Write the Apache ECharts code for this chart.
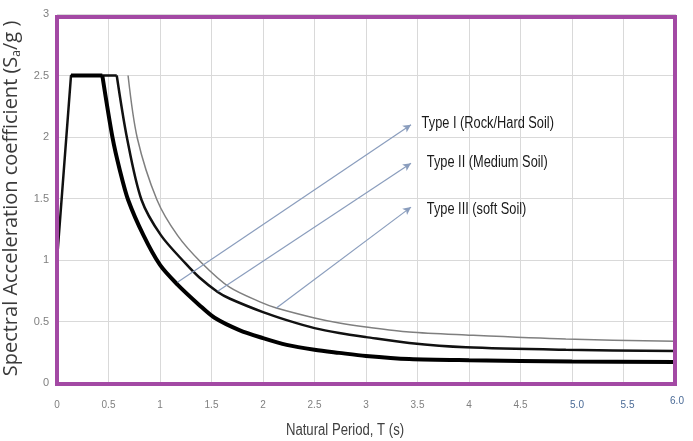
<!DOCTYPE html>
<html><head><meta charset="utf-8">
<script src="https://cdn.jsdelivr.net/npm/echarts@6/dist/echarts.min.js"></script>
<style>html,body{margin:0;padding:0;background:#fff}#c{width:693px;height:441px}</style>
</head><body><div id="c"></div>
<script>
// ---- data ----
const xTickLabels = ['0','0.5','1','1.5','2','2.5','3','3.5','4','4.5','5.0','5.5','6.0'];
const yTickLabels = ['0','0.5','1','1.5','2','2.5','3'];
const xTitle = 'Natural Period, T (s)';

// Type I (Rock / Hard soil) - thick line
const periodI = [0.136,0.44,0.54,0.61,0.69,0.84,1.0,1.17,1.38,1.53,1.77,2.0,2.23,2.5,2.74,3.0,3.42,4.0,5.0,6.0];
const saI     = [2.5,2.5,1.99,1.73,1.49,1.20,0.96,0.80,0.635,0.53,0.43,0.365,0.31,0.27,0.245,0.22,0.195,0.185,0.175,0.17];
// Type II (Medium soil)
const periodII = [0,0.136,0.58,0.68,0.82,1.01,1.25,1.38,1.56,1.68,2.0,2.23,2.5,2.74,3.0,3.42,3.97,4.94,6.0];
const saII     = [1.0,2.5,2.5,1.99,1.49,1.20,0.97,0.86,0.74,0.685,0.576,0.511,0.446,0.406,0.373,0.325,0.29,0.27,0.26];
// Type III (Soft soil) - thin grey line
const periodIII = [0.69,0.78,0.97,1.17,1.40,1.675,2.0,2.13,2.5,2.74,3.0,3.42,3.97,4.94,6.0];
const saIII     = [2.5,1.99,1.49,1.20,0.98,0.779,0.649,0.609,0.528,0.487,0.455,0.414,0.39,0.357,0.34];

// annotation arrows and labels
const annoText  = ['Type I (Rock/Hard Soil)','Type II (Medium Soil)','Type III (soft Soil)'];
const annoFrom  = [[1.17,0.82],[1.56,0.745],[2.13,0.609]];
const annoTo    = [[3.437,2.10],[3.437,1.786],[3.437,1.43]];
const annoLabel = [[3.54,2.106],[3.59,1.789],[3.59,1.41]];

const zip = (a,b) => a.map((v,i)=>[v,b[i]]);
const FONT = "'Liberation Sans Narrow','Liberation Sans',Arial,sans-serif";

// split each curve at its corner (last point at 2.5) : straight plateau + smooth descent
function parts(T, S){
  let k = 0; for(let i=0;i<S.length;i++){ if(S[i]>=2.5) k=i; }
  return { flat: zip(T.slice(0,k+1), S.slice(0,k+1)), desc: zip(T.slice(k), S.slice(k)) };
}
const pI = parts(periodI, saI), pII = parts(periodII, saII), pIII = parts(periodIII, saIII);

const styles = {
  I:  {color:'#000',width:4},
  II: {color:'#111',width:2.5},
  III:{color:'#7f7f7f',width:1.5}
};
function curve(name, p, st, z, extra){
  const out = [];
  if(p.flat.length>1) out.push({type:'line',name:name,data:p.flat,symbol:'none',lineStyle:st,z:z});
  out.push(Object.assign({type:'line',name:name,data:p.desc,symbol:'none',smooth:0.3,lineStyle:st,z:z}, extra||{}));
  return out;
}

const chart = echarts.init(document.getElementById('c'), null, {renderer:'canvas'});
chart.setOption({
  animation:false,
  backgroundColor:'#fff',
  grid:{left:57,right:18,top:14,bottom:58,containLabel:false,outerBoundsMode:'none'},
  xAxis:{
    type:'value',min:0,max:6,interval:0.5,
    axisLine:{show:false},axisTick:{show:false},
    splitLine:{show:true,lineStyle:{color:'#d9d9d9',width:1}},
    axisLabel:{
      margin:22,verticalAlign:'middle',
      fontFamily:FONT,fontSize:10,color:'#7f7f7f',
      formatter:(v)=>{const i=Math.round(v/0.5);const s=xTickLabels[i];
        if(i===10) return '{b|'+s+'}';
        if(i===11) return '{c|'+s+'}';
        if(i===12) return '{d|'+s+'}';
        return s;},
      rich:{
        b:{fontFamily:FONT,fontSize:10,color:'#4a6a96',padding:[0,0,0,10]},
        c:{fontFamily:FONT,fontSize:10,color:'#4a6a96',padding:[0,0,0,8]},
        d:{fontFamily:FONT,fontSize:10,color:'#4a6a96',padding:[0,0,8,4]}
      }
    }
  },
  yAxis:{
    type:'value',min:0,max:3,interval:0.5,
    axisLine:{show:false},axisTick:{show:false},
    splitLine:{show:true,lineStyle:{color:'#d9d9d9',width:1}},
    axisLabel:{margin:8,fontFamily:FONT,fontSize:11,color:'#7f7f7f',
      formatter:(v)=>yTickLabels[Math.round(v/0.5)]},
    name:'{t|Spectral Acceleration coefficient (S}{s|a}{t|/g )}',
    nameLocation:'middle',nameRotate:90,nameGap:22,
    nameTextStyle:{fontFamily:"'Open Sans',sans-serif",fontSize:20,color:'#3a3a3a',rich:{
      t:{fontFamily:"'Open Sans',sans-serif",fontSize:20,color:'#3a3a3a'},
      s:{fontFamily:"'Open Sans',sans-serif",fontSize:12,color:'#3a3a3a',padding:[12,0,0,0]}
    }}
  },
  series:[].concat(
    curve('Type III', pIII, styles.III, 2),
    curve('Type II', pII, styles.II, 3),
    curve('Type I', pI, styles.I, 4, {
      markLine:{silent:true,symbol:['none','arrow'],symbolSize:[6,8],
        label:{show:false},
        itemStyle:{color:'#2f4a7a'},
        lineStyle:{color:'#8a9dbd',width:1.2,type:'solid'},
        data:annoFrom.map((f,i)=>[{coord:f},{coord:annoTo[i]}])}
    })
  )
});

// annotation texts, anchored at data coordinates through the chart's scales
const g = annoLabel.map((p,i)=>{
  const px = chart.convertToPixel({gridIndex:0}, p);
  return {type:'text',x:px[0],y:px[1],scaleX:0.8,z:110,
    style:{text:annoText[i],font:"16px 'Liberation Sans Narrow','Liberation Sans',Arial,sans-serif",
      fill:'#1a1a1a',verticalAlign:'middle',align:'left'}};
});
chart.setOption({graphic:[
  {type:'rect',shape:{x:57,y:17,width:618,height:367},
    style:{fill:'none',stroke:'#a349a4',lineWidth:4},z:100},
  {type:'text',x:345,y:431,scaleX:0.82,z:110,
    style:{text:xTitle,font:"16px 'Liberation Sans Narrow','Liberation Sans',Arial,sans-serif",
      fill:'#404040',align:'center',verticalAlign:'middle'}}
].concat(g)});
</script></body></html>
